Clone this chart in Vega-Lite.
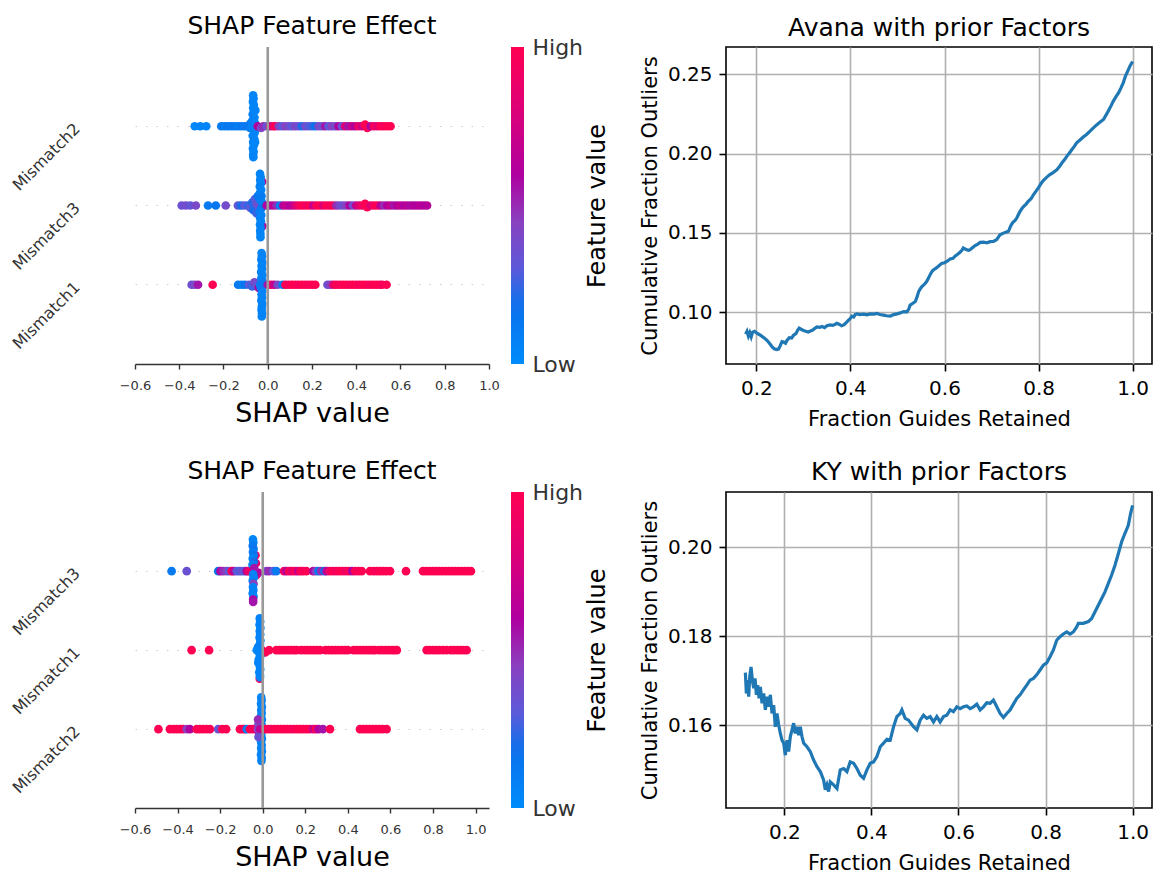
{
  "$schema": "https://vega.github.io/schema/vega-lite/v6.json",
  "background": "white",
  "padding": {"left": 9, "top": 14, "right": 5, "bottom": 4},
  "config": {
    "font": "DejaVu Sans",
    "view": {"stroke": null},
    "title": {"font": "DejaVu Sans", "fontWeight": "normal", "color": "black", "frame": "group", "baseline": "alphabetic"}
  },
  "columns": 2,
  "bounds": "flush",
  "spacing": {"row": 128, "column": 237},
  "resolve": {"scale": {"color": "independent"}, "legend": {"color": "independent"}},
  "datasets": {
    "shapA": [
      {"f":"Mismatch2","s":-0.330,"j":0,"v":0.03},{"f":"Mismatch2","s":-0.305,"j":0,"v":0.05},{"f":"Mismatch2","s":-0.278,"j":0,"v":0.04},
      {"f":"Mismatch2","s":-0.210,"j":0,"v":0.12},{"f":"Mismatch2","s":-0.195,"j":0,"v":0.10},{"f":"Mismatch2","s":-0.180,"j":0,"v":0.14},{"f":"Mismatch2","s":-0.165,"j":0,"v":0.12},{"f":"Mismatch2","s":-0.150,"j":0,"v":0.15},{"f":"Mismatch2","s":-0.135,"j":0,"v":0.10},{"f":"Mismatch2","s":-0.120,"j":0,"v":0.13},{"f":"Mismatch2","s":-0.105,"j":0,"v":0.12},{"f":"Mismatch2","s":-0.092,"j":0,"v":0.15},{"f":"Mismatch2","s":-0.080,"j":0.02,"v":0.10},{"f":"Mismatch2","s":-0.080,"j":-0.03,"v":0.12},
      {"f":"Mismatch2","s":-0.066,"j":-0.39,"v":0.05},{"f":"Mismatch2","s":-0.064,"j":-0.35,"v":0.04},{"f":"Mismatch2","s":-0.067,"j":-0.31,"v":0.05},{"f":"Mismatch2","s":-0.063,"j":-0.27,"v":0.06},{"f":"Mismatch2","s":-0.066,"j":-0.23,"v":0.04},{"f":"Mismatch2","s":-0.062,"j":-0.19,"v":0.05},{"f":"Mismatch2","s":-0.068,"j":-0.15,"v":0.07},{"f":"Mismatch2","s":-0.060,"j":-0.11,"v":0.05},{"f":"Mismatch2","s":-0.070,"j":-0.07,"v":0.08},{"f":"Mismatch2","s":-0.058,"j":-0.04,"v":0.06},{"f":"Mismatch2","s":-0.064,"j":0.04,"v":0.05},{"f":"Mismatch2","s":-0.059,"j":0.08,"v":0.06},{"f":"Mismatch2","s":-0.068,"j":0.12,"v":0.04},{"f":"Mismatch2","s":-0.061,"j":0.16,"v":0.05},{"f":"Mismatch2","s":-0.066,"j":0.20,"v":0.06},{"f":"Mismatch2","s":-0.063,"j":0.24,"v":0.05},{"f":"Mismatch2","s":-0.067,"j":0.28,"v":0.04},{"f":"Mismatch2","s":-0.064,"j":0.32,"v":0.05},{"f":"Mismatch2","s":-0.066,"j":0.36,"v":0.04},{"f":"Mismatch2","s":-0.065,"j":0.39,"v":0.05},{"f":"Mismatch2","s":-0.055,"j":0,"v":0.06},{"f":"Mismatch2","s":-0.072,"j":0,"v":0.07},{"f":"Mismatch2","s":-0.056,"j":-0.2,"v":0.06},{"f":"Mismatch2","s":-0.057,"j":0.2,"v":0.05},
      {"f":"Mismatch2","s":-0.045,"j":0,"v":0.62},{"f":"Mismatch2","s":-0.030,"j":0.02,"v":0.40},{"f":"Mismatch2","s":-0.020,"j":0,"v":0.50},{"f":"Mismatch2","s":-0.005,"j":0,"v":0.35},{"f":"Mismatch2","s":0.010,"j":0,"v":0.70},{"f":"Mismatch2","s":0.025,"j":0,"v":0.85},{"f":"Mismatch2","s":0.035,"j":0,"v":1.0},{"f":"Mismatch2","s":0.050,"j":0,"v":0.42},{"f":"Mismatch2","s":0.065,"j":0,"v":0.30},{"f":"Mismatch2","s":0.080,"j":0,"v":0.45},{"f":"Mismatch2","s":0.095,"j":0,"v":0.38},{"f":"Mismatch2","s":0.110,"j":0,"v":0.30},{"f":"Mismatch2","s":0.125,"j":0,"v":0.42},{"f":"Mismatch2","s":0.140,"j":0,"v":0.35},{"f":"Mismatch2","s":0.155,"j":0,"v":0.20},{"f":"Mismatch2","s":0.170,"j":0,"v":0.38},{"f":"Mismatch2","s":0.185,"j":0,"v":0.30},{"f":"Mismatch2","s":0.200,"j":0,"v":0.25},{"f":"Mismatch2","s":0.215,"j":0,"v":0.18},{"f":"Mismatch2","s":0.230,"j":0,"v":0.40},{"f":"Mismatch2","s":0.245,"j":0,"v":0.35},{"f":"Mismatch2","s":0.260,"j":0,"v":0.55},{"f":"Mismatch2","s":0.275,"j":0,"v":0.30},{"f":"Mismatch2","s":0.290,"j":0,"v":0.45},{"f":"Mismatch2","s":0.305,"j":0,"v":0.38},{"f":"Mismatch2","s":0.320,"j":0,"v":0.60},{"f":"Mismatch2","s":0.335,"j":0,"v":0.35},{"f":"Mismatch2","s":0.350,"j":0,"v":0.80},{"f":"Mismatch2","s":0.365,"j":0,"v":0.55},{"f":"Mismatch2","s":0.380,"j":0,"v":0.70},{"f":"Mismatch2","s":0.395,"j":0,"v":0.62},{"f":"Mismatch2","s":0.410,"j":0,"v":0.90},{"f":"Mismatch2","s":0.425,"j":0,"v":0.75},{"f":"Mismatch2","s":0.440,"j":-0.02,"v":1.0},{"f":"Mismatch2","s":0.450,"j":0.02,"v":1.0},{"f":"Mismatch2","s":0.465,"j":0,"v":0.60},{"f":"Mismatch2","s":0.480,"j":0,"v":0.95},{"f":"Mismatch2","s":0.495,"j":0,"v":0.85},{"f":"Mismatch2","s":0.510,"j":0,"v":1.0},{"f":"Mismatch2","s":0.525,"j":0,"v":0.95},{"f":"Mismatch2","s":0.540,"j":0,"v":1.0},{"f":"Mismatch2","s":0.555,"j":0,"v":1.0},
      {"f":"Mismatch3","s":-0.389,"j":0,"v":0.35},{"f":"Mismatch3","s":-0.370,"j":0,"v":0.38},{"f":"Mismatch3","s":-0.350,"j":0,"v":0.33},{"f":"Mismatch3","s":-0.325,"j":0,"v":0.40},{"f":"Mismatch3","s":-0.270,"j":0,"v":0.12},{"f":"Mismatch3","s":-0.235,"j":0,"v":0.15},{"f":"Mismatch3","s":-0.190,"j":0,"v":0.38},{"f":"Mismatch3","s":-0.135,"j":0,"v":0.32},{"f":"Mismatch3","s":-0.120,"j":0,"v":0.20},{"f":"Mismatch3","s":-0.105,"j":0,"v":0.30},
      {"f":"Mismatch3","s":-0.090,"j":0,"v":0.25},{"f":"Mismatch3","s":-0.078,"j":0.03,"v":0.30},{"f":"Mismatch3","s":-0.070,"j":-0.04,"v":0.22},{"f":"Mismatch3","s":-0.065,"j":0.06,"v":0.20},{"f":"Mismatch3","s":-0.058,"j":-0.08,"v":0.28},{"f":"Mismatch3","s":-0.050,"j":0.10,"v":0.25},{"f":"Mismatch3","s":-0.045,"j":-0.12,"v":0.15},{"f":"Mismatch3","s":-0.040,"j":0.02,"v":0.30},{"f":"Mismatch3","s":-0.050,"j":-0.02,"v":0.35},
      {"f":"Mismatch3","s":-0.025,"j":-0.30,"v":0.70},{"f":"Mismatch3","s":-0.024,"j":0.26,"v":0.65},
      {"f":"Mismatch3","s":-0.035,"j":-0.40,"v":0.06},{"f":"Mismatch3","s":-0.032,"j":-0.36,"v":0.05},{"f":"Mismatch3","s":-0.034,"j":-0.32,"v":0.06},{"f":"Mismatch3","s":-0.031,"j":-0.28,"v":0.05},{"f":"Mismatch3","s":-0.036,"j":-0.24,"v":0.07},{"f":"Mismatch3","s":-0.030,"j":-0.20,"v":0.05},{"f":"Mismatch3","s":-0.035,"j":-0.16,"v":0.06},{"f":"Mismatch3","s":-0.028,"j":-0.12,"v":0.10},{"f":"Mismatch3","s":-0.037,"j":-0.08,"v":0.12},{"f":"Mismatch3","s":-0.026,"j":-0.04,"v":0.08},{"f":"Mismatch3","s":-0.030,"j":0.04,"v":0.15},{"f":"Mismatch3","s":-0.036,"j":0.08,"v":0.10},{"f":"Mismatch3","s":-0.029,"j":0.12,"v":0.06},{"f":"Mismatch3","s":-0.034,"j":0.16,"v":0.05},{"f":"Mismatch3","s":-0.031,"j":0.20,"v":0.06},{"f":"Mismatch3","s":-0.035,"j":0.24,"v":0.05},{"f":"Mismatch3","s":-0.032,"j":0.28,"v":0.07},{"f":"Mismatch3","s":-0.034,"j":0.32,"v":0.05},{"f":"Mismatch3","s":-0.033,"j":0.36,"v":0.06},{"f":"Mismatch3","s":-0.033,"j":0.40,"v":0.05},
      {"f":"Mismatch3","s":-0.005,"j":0,"v":0.60},{"f":"Mismatch3","s":0.010,"j":0,"v":0.55},{"f":"Mismatch3","s":0.025,"j":0,"v":0.65},{"f":"Mismatch3","s":0.040,"j":0,"v":0.50},{"f":"Mismatch3","s":0.055,"j":0,"v":0.10},{"f":"Mismatch3","s":0.070,"j":0,"v":0.62},{"f":"Mismatch3","s":0.085,"j":0,"v":0.70},{"f":"Mismatch3","s":0.100,"j":0,"v":0.60},{"f":"Mismatch3","s":0.115,"j":0,"v":0.68},{"f":"Mismatch3","s":0.130,"j":0,"v":0.85},{"f":"Mismatch3","s":0.145,"j":0,"v":0.95},{"f":"Mismatch3","s":0.160,"j":0,"v":1.0},{"f":"Mismatch3","s":0.175,"j":0,"v":0.90},{"f":"Mismatch3","s":0.190,"j":0,"v":1.0},{"f":"Mismatch3","s":0.205,"j":0,"v":0.70},{"f":"Mismatch3","s":0.220,"j":0,"v":0.95},{"f":"Mismatch3","s":0.235,"j":0,"v":1.0},{"f":"Mismatch3","s":0.250,"j":0,"v":0.80},{"f":"Mismatch3","s":0.265,"j":0,"v":1.0},{"f":"Mismatch3","s":0.280,"j":0,"v":0.95},{"f":"Mismatch3","s":0.295,"j":0,"v":1.0},{"f":"Mismatch3","s":0.310,"j":0,"v":0.50},{"f":"Mismatch3","s":0.325,"j":0,"v":0.40},{"f":"Mismatch3","s":0.340,"j":0,"v":0.35},{"f":"Mismatch3","s":0.355,"j":0,"v":0.45},{"f":"Mismatch3","s":0.370,"j":0,"v":0.60},{"f":"Mismatch3","s":0.385,"j":0,"v":0.38},{"f":"Mismatch3","s":0.400,"j":0,"v":0.70},{"f":"Mismatch3","s":0.415,"j":0,"v":0.85},{"f":"Mismatch3","s":0.430,"j":0,"v":0.90},{"f":"Mismatch3","s":0.440,"j":-0.02,"v":1.0},{"f":"Mismatch3","s":0.450,"j":0.02,"v":1.0},{"f":"Mismatch3","s":0.465,"j":0,"v":0.80},{"f":"Mismatch3","s":0.480,"j":0,"v":0.95},{"f":"Mismatch3","s":0.495,"j":0,"v":1.0},{"f":"Mismatch3","s":0.510,"j":0,"v":0.65},{"f":"Mismatch3","s":0.525,"j":0,"v":0.50},{"f":"Mismatch3","s":0.540,"j":0,"v":0.60},{"f":"Mismatch3","s":0.555,"j":0,"v":0.70},{"f":"Mismatch3","s":0.570,"j":0,"v":0.55},{"f":"Mismatch3","s":0.585,"j":0,"v":0.62},{"f":"Mismatch3","s":0.600,"j":0,"v":0.68},{"f":"Mismatch3","s":0.615,"j":0,"v":0.60},{"f":"Mismatch3","s":0.630,"j":0,"v":0.65},{"f":"Mismatch3","s":0.645,"j":0,"v":0.58},{"f":"Mismatch3","s":0.660,"j":0,"v":0.62},{"f":"Mismatch3","s":0.675,"j":0,"v":0.60},{"f":"Mismatch3","s":0.690,"j":0,"v":0.65},{"f":"Mismatch3","s":0.705,"j":0,"v":0.60},{"f":"Mismatch3","s":0.720,"j":0,"v":0.62},
      {"f":"Mismatch1","s":-0.344,"j":0,"v":0.35},{"f":"Mismatch1","s":-0.330,"j":0,"v":0.40},{"f":"Mismatch1","s":-0.315,"j":0,"v":0.55},{"f":"Mismatch1","s":-0.249,"j":0,"v":1.0},{"f":"Mismatch1","s":-0.134,"j":0,"v":0.12},{"f":"Mismatch1","s":-0.118,"j":0,"v":0.10},{"f":"Mismatch1","s":-0.103,"j":0,"v":0.14},{"f":"Mismatch1","s":-0.085,"j":0,"v":0.30},{"f":"Mismatch1","s":-0.070,"j":0.02,"v":0.25},{"f":"Mismatch1","s":-0.060,"j":-0.03,"v":0.40},{"f":"Mismatch1","s":-0.050,"j":0,"v":0.35},{"f":"Mismatch1","s":-0.040,"j":0.04,"v":0.60},
      {"f":"Mismatch1","s":-0.028,"j":-0.40,"v":0.05},{"f":"Mismatch1","s":-0.026,"j":-0.36,"v":0.06},{"f":"Mismatch1","s":-0.029,"j":-0.32,"v":0.05},{"f":"Mismatch1","s":-0.025,"j":-0.28,"v":0.06},{"f":"Mismatch1","s":-0.028,"j":-0.24,"v":0.05},{"f":"Mismatch1","s":-0.026,"j":-0.20,"v":0.07},{"f":"Mismatch1","s":-0.030,"j":-0.16,"v":0.05},{"f":"Mismatch1","s":-0.024,"j":-0.12,"v":0.06},{"f":"Mismatch1","s":-0.029,"j":-0.08,"v":0.05},{"f":"Mismatch1","s":-0.023,"j":-0.04,"v":0.08},{"f":"Mismatch1","s":-0.031,"j":0.04,"v":0.06},{"f":"Mismatch1","s":-0.025,"j":0.08,"v":0.05},{"f":"Mismatch1","s":-0.028,"j":0.12,"v":0.06},{"f":"Mismatch1","s":-0.026,"j":0.16,"v":0.05},{"f":"Mismatch1","s":-0.029,"j":0.20,"v":0.06},{"f":"Mismatch1","s":-0.025,"j":0.24,"v":0.05},{"f":"Mismatch1","s":-0.027,"j":0.28,"v":0.06},{"f":"Mismatch1","s":-0.028,"j":0.32,"v":0.05},{"f":"Mismatch1","s":-0.026,"j":0.36,"v":0.05},{"f":"Mismatch1","s":-0.027,"j":0.40,"v":0.06},{"f":"Mismatch1","s":-0.018,"j":0,"v":0.10},{"f":"Mismatch1","s":-0.035,"j":0,"v":0.12},
      {"f":"Mismatch1","s":0.000,"j":0,"v":0.55},{"f":"Mismatch1","s":0.015,"j":0,"v":0.90},{"f":"Mismatch1","s":0.030,"j":0,"v":0.70},{"f":"Mismatch1","s":0.045,"j":0,"v":0.40},{"f":"Mismatch1","s":0.067,"j":0,"v":0.10},{"f":"Mismatch1","s":0.080,"j":0,"v":1.0},{"f":"Mismatch1","s":0.095,"j":0,"v":0.95},{"f":"Mismatch1","s":0.110,"j":0,"v":1.0},{"f":"Mismatch1","s":0.125,"j":0,"v":1.0},{"f":"Mismatch1","s":0.140,"j":0,"v":0.95},{"f":"Mismatch1","s":0.155,"j":0,"v":1.0},{"f":"Mismatch1","s":0.170,"j":0,"v":1.0},{"f":"Mismatch1","s":0.185,"j":0,"v":0.95},{"f":"Mismatch1","s":0.200,"j":0,"v":1.0},{"f":"Mismatch1","s":0.215,"j":0,"v":1.0},{"f":"Mismatch1","s":0.270,"j":0,"v":0.35},{"f":"Mismatch1","s":0.283,"j":0,"v":0.45},{"f":"Mismatch1","s":0.297,"j":0,"v":0.85},{"f":"Mismatch1","s":0.310,"j":0,"v":1.0},{"f":"Mismatch1","s":0.325,"j":0,"v":0.95},{"f":"Mismatch1","s":0.340,"j":0,"v":1.0},{"f":"Mismatch1","s":0.355,"j":0,"v":1.0},{"f":"Mismatch1","s":0.370,"j":0,"v":0.95},{"f":"Mismatch1","s":0.385,"j":0,"v":1.0},{"f":"Mismatch1","s":0.400,"j":0,"v":1.0},{"f":"Mismatch1","s":0.415,"j":0,"v":0.95},{"f":"Mismatch1","s":0.430,"j":0,"v":1.0},{"f":"Mismatch1","s":0.445,"j":0,"v":1.0},{"f":"Mismatch1","s":0.460,"j":0,"v":0.95},{"f":"Mismatch1","s":0.475,"j":0,"v":1.0},{"f":"Mismatch1","s":0.490,"j":0,"v":1.0},{"f":"Mismatch1","s":0.505,"j":0,"v":1.0},{"f":"Mismatch1","s":0.517,"j":0,"v":0.95},{"f":"Mismatch1","s":0.537,"j":0,"v":1.0}
    ],
    "shapB": [
      {"f":"Mismatch3","s":-0.428,"j":0,"v":0.12},{"f":"Mismatch3","s":-0.357,"j":0,"v":0.35},{"f":"Mismatch3","s":-0.209,"j":0,"v":0.15},{"f":"Mismatch3","s":-0.198,"j":0,"v":0.60},{"f":"Mismatch3","s":-0.185,"j":0,"v":0.50},{"f":"Mismatch3","s":-0.170,"j":0,"v":0.45},{"f":"Mismatch3","s":-0.158,"j":0,"v":0.30},{"f":"Mismatch3","s":-0.146,"j":0,"v":1.0},{"f":"Mismatch3","s":-0.135,"j":0,"v":0.65},{"f":"Mismatch3","s":-0.122,"j":0,"v":0.32},{"f":"Mismatch3","s":-0.110,"j":0,"v":0.28},{"f":"Mismatch3","s":-0.098,"j":0,"v":0.35},{"f":"Mismatch3","s":-0.086,"j":0,"v":0.30},{"f":"Mismatch3","s":-0.075,"j":0,"v":0.60},{"f":"Mismatch3","s":-0.066,"j":0,"v":0.90},
      {"f":"Mismatch3","s":-0.032,"j":-0.10,"v":0.90},{"f":"Mismatch3","s":-0.030,"j":0.05,"v":0.85},{"f":"Mismatch3","s":-0.034,"j":-0.20,"v":0.95},{"f":"Mismatch3","s":-0.020,"j":0.02,"v":0.60},
      {"f":"Mismatch3","s":-0.046,"j":-0.40,"v":0.05},{"f":"Mismatch3","s":-0.044,"j":-0.36,"v":0.06},{"f":"Mismatch3","s":-0.047,"j":-0.32,"v":0.12},{"f":"Mismatch3","s":-0.043,"j":-0.28,"v":0.15},{"f":"Mismatch3","s":-0.046,"j":-0.24,"v":0.10},{"f":"Mismatch3","s":-0.042,"j":-0.20,"v":0.14},{"f":"Mismatch3","s":-0.047,"j":-0.16,"v":0.05},{"f":"Mismatch3","s":-0.041,"j":-0.12,"v":0.20},{"f":"Mismatch3","s":-0.048,"j":-0.08,"v":0.06},{"f":"Mismatch3","s":-0.040,"j":-0.04,"v":0.55},{"f":"Mismatch3","s":-0.045,"j":0.04,"v":0.05},{"f":"Mismatch3","s":-0.042,"j":0.08,"v":0.06},{"f":"Mismatch3","s":-0.047,"j":0.12,"v":0.08},{"f":"Mismatch3","s":-0.043,"j":0.16,"v":0.45},{"f":"Mismatch3","s":-0.046,"j":0.20,"v":0.05},{"f":"Mismatch3","s":-0.044,"j":0.24,"v":0.06},{"f":"Mismatch3","s":-0.047,"j":0.28,"v":0.07},{"f":"Mismatch3","s":-0.043,"j":0.32,"v":0.05},{"f":"Mismatch3","s":-0.045,"j":0.36,"v":0.60},{"f":"Mismatch3","s":-0.045,"j":0.39,"v":0.55},
      {"f":"Mismatch3","s":0.017,"j":0,"v":0.40},{"f":"Mismatch3","s":0.030,"j":0,"v":0.50},{"f":"Mismatch3","s":0.050,"j":0,"v":0.30},{"f":"Mismatch3","s":0.064,"j":0,"v":0.12},{"f":"Mismatch3","s":0.100,"j":0,"v":0.90},{"f":"Mismatch3","s":0.112,"j":0,"v":0.65},{"f":"Mismatch3","s":0.125,"j":0,"v":1.0},{"f":"Mismatch3","s":0.138,"j":0,"v":0.85},{"f":"Mismatch3","s":0.152,"j":0,"v":1.0},{"f":"Mismatch3","s":0.165,"j":0,"v":0.70},{"f":"Mismatch3","s":0.178,"j":0,"v":1.0},{"f":"Mismatch3","s":0.190,"j":0,"v":0.95},{"f":"Mismatch3","s":0.205,"j":0,"v":1.0},{"f":"Mismatch3","s":0.237,"j":0,"v":0.60},{"f":"Mismatch3","s":0.250,"j":0,"v":0.45},{"f":"Mismatch3","s":0.262,"j":0,"v":0.12},{"f":"Mismatch3","s":0.275,"j":0,"v":0.50},{"f":"Mismatch3","s":0.290,"j":0,"v":0.20},{"f":"Mismatch3","s":0.300,"j":0,"v":0.65},{"f":"Mismatch3","s":0.315,"j":0,"v":0.90},{"f":"Mismatch3","s":0.330,"j":0,"v":1.0},{"f":"Mismatch3","s":0.345,"j":0,"v":0.95},{"f":"Mismatch3","s":0.360,"j":0,"v":1.0},{"f":"Mismatch3","s":0.375,"j":0,"v":1.0},{"f":"Mismatch3","s":0.390,"j":0,"v":0.90},{"f":"Mismatch3","s":0.405,"j":0,"v":1.0},{"f":"Mismatch3","s":0.420,"j":0,"v":0.60},{"f":"Mismatch3","s":0.435,"j":0,"v":1.0},{"f":"Mismatch3","s":0.450,"j":0,"v":0.95},{"f":"Mismatch3","s":0.465,"j":0,"v":1.0},{"f":"Mismatch3","s":0.504,"j":0,"v":1.0},{"f":"Mismatch3","s":0.520,"j":0,"v":1.0},{"f":"Mismatch3","s":0.535,"j":0,"v":0.95},{"f":"Mismatch3","s":0.550,"j":0,"v":1.0},{"f":"Mismatch3","s":0.565,"j":0,"v":1.0},{"f":"Mismatch3","s":0.580,"j":0,"v":1.0},{"f":"Mismatch3","s":0.598,"j":0,"v":1.0},{"f":"Mismatch3","s":0.673,"j":0,"v":1.0},{"f":"Mismatch3","s":0.753,"j":0,"v":1.0},{"f":"Mismatch3","s":0.768,"j":0,"v":1.0},{"f":"Mismatch3","s":0.783,"j":0,"v":1.0},{"f":"Mismatch3","s":0.798,"j":0,"v":1.0},{"f":"Mismatch3","s":0.813,"j":0,"v":1.0},{"f":"Mismatch3","s":0.828,"j":0,"v":1.0},{"f":"Mismatch3","s":0.843,"j":0,"v":1.0},{"f":"Mismatch3","s":0.858,"j":0,"v":1.0},{"f":"Mismatch3","s":0.873,"j":0,"v":1.0},{"f":"Mismatch3","s":0.888,"j":0,"v":1.0},{"f":"Mismatch3","s":0.903,"j":0,"v":1.0},{"f":"Mismatch3","s":0.918,"j":0,"v":1.0},{"f":"Mismatch3","s":0.933,"j":0,"v":1.0},{"f":"Mismatch3","s":0.948,"j":0,"v":1.0},{"f":"Mismatch3","s":0.963,"j":0,"v":1.0},{"f":"Mismatch3","s":0.978,"j":0,"v":1.0},
      {"f":"Mismatch1","s":-0.334,"j":0,"v":1.0},{"f":"Mismatch1","s":-0.252,"j":0,"v":1.0},
      {"f":"Mismatch1","s":-0.014,"j":0.36,"v":0.95},{"f":"Mismatch1","s":-0.004,"j":0,"v":1.0},{"f":"Mismatch1","s":0.012,"j":0.03,"v":1.0},
      {"f":"Mismatch1","s":-0.014,"j":-0.40,"v":0.05},{"f":"Mismatch1","s":-0.012,"j":-0.36,"v":0.06},{"f":"Mismatch1","s":-0.015,"j":-0.32,"v":0.05},{"f":"Mismatch1","s":-0.011,"j":-0.28,"v":0.06},{"f":"Mismatch1","s":-0.014,"j":-0.24,"v":0.05},{"f":"Mismatch1","s":-0.012,"j":-0.20,"v":0.06},{"f":"Mismatch1","s":-0.015,"j":-0.16,"v":0.05},{"f":"Mismatch1","s":-0.011,"j":-0.12,"v":0.06},{"f":"Mismatch1","s":-0.013,"j":-0.08,"v":0.05},{"f":"Mismatch1","s":-0.022,"j":-0.04,"v":0.07},{"f":"Mismatch1","s":-0.028,"j":0,"v":0.05},{"f":"Mismatch1","s":-0.016,"j":0.04,"v":0.05},{"f":"Mismatch1","s":-0.012,"j":0.08,"v":0.06},{"f":"Mismatch1","s":-0.019,"j":0.12,"v":0.05},{"f":"Mismatch1","s":-0.021,"j":0.16,"v":0.06},{"f":"Mismatch1","s":-0.014,"j":0.20,"v":0.05},{"f":"Mismatch1","s":-0.012,"j":0.24,"v":0.06},{"f":"Mismatch1","s":-0.016,"j":0.28,"v":0.05},{"f":"Mismatch1","s":-0.013,"j":0.32,"v":0.06},{"f":"Mismatch1","s":-0.013,"j":0.34,"v":0.05},
      {"f":"Mismatch1","s":0.030,"j":0,"v":1.0},{"f":"Mismatch1","s":0.064,"j":0,"v":1.0},{"f":"Mismatch1","s":0.078,"j":0,"v":1.0},{"f":"Mismatch1","s":0.092,"j":0,"v":1.0},{"f":"Mismatch1","s":0.106,"j":0,"v":1.0},{"f":"Mismatch1","s":0.120,"j":0,"v":1.0},{"f":"Mismatch1","s":0.134,"j":0,"v":1.0},{"f":"Mismatch1","s":0.148,"j":0,"v":1.0},{"f":"Mismatch1","s":0.159,"j":0,"v":1.0},{"f":"Mismatch1","s":0.180,"j":0,"v":1.0},{"f":"Mismatch1","s":0.195,"j":0,"v":1.0},{"f":"Mismatch1","s":0.210,"j":0,"v":1.0},{"f":"Mismatch1","s":0.225,"j":0,"v":1.0},{"f":"Mismatch1","s":0.240,"j":0,"v":1.0},{"f":"Mismatch1","s":0.255,"j":0,"v":1.0},{"f":"Mismatch1","s":0.269,"j":0,"v":1.0},{"f":"Mismatch1","s":0.295,"j":0,"v":1.0},{"f":"Mismatch1","s":0.310,"j":0,"v":1.0},{"f":"Mismatch1","s":0.325,"j":0,"v":1.0},{"f":"Mismatch1","s":0.340,"j":0,"v":1.0},{"f":"Mismatch1","s":0.355,"j":0,"v":1.0},{"f":"Mismatch1","s":0.370,"j":0,"v":1.0},{"f":"Mismatch1","s":0.385,"j":0,"v":1.0},{"f":"Mismatch1","s":0.400,"j":0,"v":1.0},{"f":"Mismatch1","s":0.427,"j":0,"v":1.0},{"f":"Mismatch1","s":0.442,"j":0,"v":1.0},{"f":"Mismatch1","s":0.457,"j":0,"v":1.0},{"f":"Mismatch1","s":0.472,"j":0,"v":1.0},{"f":"Mismatch1","s":0.487,"j":0,"v":1.0},{"f":"Mismatch1","s":0.502,"j":0,"v":1.0},{"f":"Mismatch1","s":0.516,"j":0,"v":1.0},{"f":"Mismatch1","s":0.527,"j":0,"v":1.0},{"f":"Mismatch1","s":0.546,"j":0,"v":1.0},{"f":"Mismatch1","s":0.561,"j":0,"v":1.0},{"f":"Mismatch1","s":0.576,"j":0,"v":1.0},{"f":"Mismatch1","s":0.591,"j":0,"v":1.0},{"f":"Mismatch1","s":0.606,"j":0,"v":1.0},{"f":"Mismatch1","s":0.618,"j":0,"v":1.0},{"f":"Mismatch1","s":0.630,"j":0,"v":1.0},{"f":"Mismatch1","s":0.770,"j":0,"v":1.0},{"f":"Mismatch1","s":0.785,"j":0,"v":1.0},{"f":"Mismatch1","s":0.800,"j":0,"v":1.0},{"f":"Mismatch1","s":0.815,"j":0,"v":1.0},{"f":"Mismatch1","s":0.830,"j":0,"v":1.0},{"f":"Mismatch1","s":0.847,"j":0,"v":1.0},{"f":"Mismatch1","s":0.864,"j":0,"v":1.0},{"f":"Mismatch1","s":0.884,"j":0,"v":1.0},{"f":"Mismatch1","s":0.899,"j":0,"v":1.0},{"f":"Mismatch1","s":0.914,"j":0,"v":1.0},{"f":"Mismatch1","s":0.929,"j":0,"v":1.0},{"f":"Mismatch1","s":0.944,"j":0,"v":1.0},{"f":"Mismatch1","s":0.958,"j":0,"v":1.0},
      {"f":"Mismatch2","s":-0.490,"j":0,"v":1.0},{"f":"Mismatch2","s":-0.436,"j":0,"v":1.0},{"f":"Mismatch2","s":-0.420,"j":0,"v":1.0},{"f":"Mismatch2","s":-0.405,"j":0,"v":1.0},{"f":"Mismatch2","s":-0.390,"j":0,"v":1.0},{"f":"Mismatch2","s":-0.374,"j":0,"v":1.0},{"f":"Mismatch2","s":-0.357,"j":0,"v":0.45},{"f":"Mismatch2","s":-0.342,"j":0,"v":0.60},{"f":"Mismatch2","s":-0.310,"j":0,"v":1.0},{"f":"Mismatch2","s":-0.295,"j":0,"v":1.0},{"f":"Mismatch2","s":-0.280,"j":0,"v":1.0},{"f":"Mismatch2","s":-0.263,"j":0,"v":1.0},{"f":"Mismatch2","s":-0.248,"j":0,"v":1.0},{"f":"Mismatch2","s":-0.209,"j":0,"v":0.35},{"f":"Mismatch2","s":-0.190,"j":0,"v":1.0},{"f":"Mismatch2","s":-0.172,"j":0,"v":1.0},{"f":"Mismatch2","s":-0.107,"j":0,"v":1.0},{"f":"Mismatch2","s":-0.095,"j":0,"v":1.0},{"f":"Mismatch2","s":-0.083,"j":0,"v":1.0},{"f":"Mismatch2","s":-0.075,"j":0,"v":0.10},{"f":"Mismatch2","s":-0.060,"j":0,"v":1.0},{"f":"Mismatch2","s":-0.045,"j":0,"v":0.95},
      {"f":"Mismatch2","s":-0.007,"j":-0.40,"v":0.05},{"f":"Mismatch2","s":-0.005,"j":-0.36,"v":0.06},{"f":"Mismatch2","s":-0.008,"j":-0.32,"v":0.05},{"f":"Mismatch2","s":-0.004,"j":-0.28,"v":0.06},{"f":"Mismatch2","s":-0.007,"j":-0.24,"v":0.05},{"f":"Mismatch2","s":-0.005,"j":-0.20,"v":0.06},{"f":"Mismatch2","s":-0.008,"j":-0.16,"v":0.05},{"f":"Mismatch2","s":-0.004,"j":-0.12,"v":0.06},{"f":"Mismatch2","s":-0.006,"j":-0.06,"v":0.05},{"f":"Mismatch2","s":-0.006,"j":0.04,"v":0.05},{"f":"Mismatch2","s":-0.007,"j":0.08,"v":0.06},{"f":"Mismatch2","s":-0.004,"j":0.12,"v":0.05},{"f":"Mismatch2","s":-0.008,"j":0.16,"v":0.06},{"f":"Mismatch2","s":-0.005,"j":0.20,"v":0.05},{"f":"Mismatch2","s":-0.007,"j":0.24,"v":0.06},{"f":"Mismatch2","s":-0.004,"j":0.28,"v":0.05},{"f":"Mismatch2","s":-0.008,"j":0.32,"v":0.06},{"f":"Mismatch2","s":-0.005,"j":0.36,"v":0.05},{"f":"Mismatch2","s":-0.006,"j":0.40,"v":0.06},
      {"f":"Mismatch2","s":-0.020,"j":-0.06,"v":0.40},{"f":"Mismatch2","s":-0.018,"j":0.04,"v":0.60},{"f":"Mismatch2","s":-0.022,"j":0.0,"v":0.45},{"f":"Mismatch2","s":-0.012,"j":0.0,"v":0.65},{"f":"Mismatch2","s":-0.020,"j":0.10,"v":0.35},{"f":"Mismatch2","s":-0.022,"j":-0.12,"v":0.50},
      {"f":"Mismatch2","s":0.010,"j":0,"v":1.0},{"f":"Mismatch2","s":0.025,"j":0,"v":1.0},{"f":"Mismatch2","s":0.040,"j":0,"v":0.95},{"f":"Mismatch2","s":0.055,"j":0,"v":1.0},{"f":"Mismatch2","s":0.070,"j":0,"v":1.0},{"f":"Mismatch2","s":0.085,"j":0,"v":1.0},{"f":"Mismatch2","s":0.100,"j":0,"v":1.0},{"f":"Mismatch2","s":0.115,"j":0,"v":1.0},{"f":"Mismatch2","s":0.130,"j":0,"v":1.0},{"f":"Mismatch2","s":0.145,"j":0,"v":0.95},{"f":"Mismatch2","s":0.160,"j":0,"v":1.0},{"f":"Mismatch2","s":0.175,"j":0,"v":1.0},{"f":"Mismatch2","s":0.190,"j":0,"v":1.0},{"f":"Mismatch2","s":0.205,"j":0,"v":1.0},{"f":"Mismatch2","s":0.220,"j":0,"v":1.0},{"f":"Mismatch2","s":0.237,"j":0,"v":0.70},{"f":"Mismatch2","s":0.250,"j":0,"v":1.0},{"f":"Mismatch2","s":0.262,"j":0,"v":0.60},{"f":"Mismatch2","s":0.283,"j":0,"v":0.55},{"f":"Mismatch2","s":0.316,"j":0,"v":1.0},{"f":"Mismatch2","s":0.457,"j":0,"v":1.0},{"f":"Mismatch2","s":0.472,"j":0,"v":1.0},{"f":"Mismatch2","s":0.487,"j":0,"v":1.0},{"f":"Mismatch2","s":0.502,"j":0,"v":1.0},{"f":"Mismatch2","s":0.517,"j":0,"v":1.0},{"f":"Mismatch2","s":0.532,"j":0,"v":1.0},{"f":"Mismatch2","s":0.547,"j":0,"v":1.0},{"f":"Mismatch2","s":0.562,"j":0,"v":1.0},{"f":"Mismatch2","s":0.582,"j":0,"v":1.0}
    ],
    "avana": [
      {"x":0.177,"y":0.0862},{"x":0.180,"y":0.0880},{"x":0.183,"y":0.0850},{"x":0.186,"y":0.0872},{"x":0.189,"y":0.0845},{"x":0.192,"y":0.0875},{"x":0.196,"y":0.0880},{"x":0.201,"y":0.0868},{"x":0.206,"y":0.0860},{"x":0.212,"y":0.0848},{"x":0.218,"y":0.0835},{"x":0.223,"y":0.0822},{"x":0.229,"y":0.0800},{"x":0.234,"y":0.0780},{"x":0.238,"y":0.0770},{"x":0.243,"y":0.0765},{"x":0.247,"y":0.0768},{"x":0.250,"y":0.0785},{"x":0.2545,"y":0.0815},{"x":0.258,"y":0.0812},{"x":0.262,"y":0.0805},{"x":0.265,"y":0.0822},{"x":0.270,"y":0.0840},{"x":0.275,"y":0.0838},{"x":0.279,"y":0.0855},{"x":0.284,"y":0.0865},{"x":0.288,"y":0.0888},{"x":0.291,"y":0.0900},{"x":0.295,"y":0.0893},{"x":0.300,"y":0.0885},{"x":0.305,"y":0.0880},{"x":0.310,"y":0.0875},{"x":0.315,"y":0.0882},{"x":0.320,"y":0.0888},{"x":0.325,"y":0.0900},{"x":0.329,"y":0.0908},{"x":0.335,"y":0.0905},{"x":0.340,"y":0.0910},{"x":0.345,"y":0.0903},{"x":0.350,"y":0.0915},{"x":0.357,"y":0.0920},{"x":0.362,"y":0.0918},{"x":0.367,"y":0.0922},{"x":0.371,"y":0.0930},{"x":0.376,"y":0.0925},{"x":0.381,"y":0.0915},{"x":0.386,"y":0.0920},{"x":0.391,"y":0.0935},{"x":0.396,"y":0.0950},{"x":0.400,"y":0.0962},{"x":0.403,"y":0.0975},{"x":0.407,"y":0.0970},{"x":0.410,"y":0.0985},{"x":0.414,"y":0.0990},{"x":0.420,"y":0.0985},{"x":0.428,"y":0.0988},{"x":0.435,"y":0.0984},{"x":0.442,"y":0.0990},{"x":0.450,"y":0.0988},{"x":0.456,"y":0.0992},{"x":0.463,"y":0.0986},{"x":0.470,"y":0.0982},{"x":0.477,"y":0.0978},{"x":0.485,"y":0.0976},{"x":0.492,"y":0.0985},{"x":0.499,"y":0.0990},{"x":0.506,"y":0.0996},{"x":0.513,"y":0.1004},{"x":0.520,"y":0.1002},{"x":0.524,"y":0.1020},{"x":0.527,"y":0.1045},{"x":0.532,"y":0.1055},{"x":0.538,"y":0.1068},{"x":0.542,"y":0.1100},{"x":0.545,"y":0.1130},{"x":0.549,"y":0.1150},{"x":0.552,"y":0.1162},{"x":0.557,"y":0.1175},{"x":0.562,"y":0.1193},{"x":0.566,"y":0.1215},{"x":0.570,"y":0.1240},{"x":0.574,"y":0.1260},{"x":0.577,"y":0.1268},{"x":0.582,"y":0.1278},{"x":0.587,"y":0.1290},{"x":0.594,"y":0.1308},{"x":0.600,"y":0.1312},{"x":0.605,"y":0.1320},{"x":0.612,"y":0.1335},{"x":0.618,"y":0.1340},{"x":0.623,"y":0.1355},{"x":0.628,"y":0.1365},{"x":0.633,"y":0.1378},{"x":0.637,"y":0.1390},{"x":0.640,"y":0.1405},{"x":0.644,"y":0.1398},{"x":0.648,"y":0.1393},{"x":0.652,"y":0.1390},{"x":0.655,"y":0.1395},{"x":0.660,"y":0.1408},{"x":0.665,"y":0.1420},{"x":0.670,"y":0.1428},{"x":0.676,"y":0.1440},{"x":0.683,"y":0.1442},{"x":0.690,"y":0.1438},{"x":0.697,"y":0.1445},{"x":0.704,"y":0.1446},{"x":0.711,"y":0.1458},{"x":0.718,"y":0.1488},{"x":0.723,"y":0.1495},{"x":0.729,"y":0.1503},{"x":0.736,"y":0.1510},{"x":0.741,"y":0.1545},{"x":0.745,"y":0.1565},{"x":0.750,"y":0.1578},{"x":0.754,"y":0.1595},{"x":0.758,"y":0.1620},{"x":0.761,"y":0.1637},{"x":0.765,"y":0.1655},{"x":0.768,"y":0.1665},{"x":0.773,"y":0.1680},{"x":0.778,"y":0.1698},{"x":0.784,"y":0.1715},{"x":0.789,"y":0.1740},{"x":0.795,"y":0.1765},{"x":0.800,"y":0.1785},{"x":0.805,"y":0.1810},{"x":0.810,"y":0.1830},{"x":0.817,"y":0.1850},{"x":0.824,"y":0.1867},{"x":0.831,"y":0.1880},{"x":0.839,"y":0.1898},{"x":0.845,"y":0.1920},{"x":0.850,"y":0.1942},{"x":0.855,"y":0.1960},{"x":0.860,"y":0.1982},{"x":0.866,"y":0.2005},{"x":0.871,"y":0.2025},{"x":0.876,"y":0.2045},{"x":0.881,"y":0.2067},{"x":0.888,"y":0.2085},{"x":0.895,"y":0.2104},{"x":0.902,"y":0.2120},{"x":0.909,"y":0.2140},{"x":0.916,"y":0.2160},{"x":0.924,"y":0.2182},{"x":0.931,"y":0.2198},{"x":0.938,"y":0.2214},{"x":0.944,"y":0.2245},{"x":0.948,"y":0.2266},{"x":0.954,"y":0.2300},{"x":0.959,"y":0.2330},{"x":0.965,"y":0.2360},{"x":0.970,"y":0.2382},{"x":0.975,"y":0.2412},{"x":0.980,"y":0.2445},{"x":0.985,"y":0.2490},{"x":0.991,"y":0.2529},{"x":0.995,"y":0.2555},{"x":1.000,"y":0.2580}
    ],
    "ky": [
      {"x":0.1105,"y":0.1718},{"x":0.1128,"y":0.1671},{"x":0.1159,"y":0.1701},{"x":0.1182,"y":0.1664},{"x":0.1205,"y":0.1709},{"x":0.1235,"y":0.1731},{"x":0.1266,"y":0.1701},{"x":0.1296,"y":0.1683},{"x":0.1327,"y":0.1705},{"x":0.1358,"y":0.1668},{"x":0.1388,"y":0.1690},{"x":0.1419,"y":0.1660},{"x":0.1449,"y":0.1686},{"x":0.1488,"y":0.1649},{"x":0.1526,"y":0.1671},{"x":0.1564,"y":0.1634},{"x":0.1602,"y":0.1664},{"x":0.1641,"y":0.1641},{"x":0.1679,"y":0.1668},{"x":0.1717,"y":0.1626},{"x":0.1755,"y":0.1645},{"x":0.1793,"y":0.1596},{"x":0.1832,"y":0.1626},{"x":0.1870,"y":0.1600},{"x":0.1908,"y":0.1581},{"x":0.1946,"y":0.1566},{"x":0.1985,"y":0.1559},{"x":0.2023,"y":0.1532},{"x":0.2061,"y":0.1566},{"x":0.2099,"y":0.1540},{"x":0.2138,"y":0.1574},{"x":0.2176,"y":0.1589},{"x":0.2214,"y":0.1604},{"x":0.2252,"y":0.1581},{"x":0.2291,"y":0.1596},{"x":0.2329,"y":0.1577},{"x":0.2367,"y":0.1596},{"x":0.2405,"y":0.1574},{"x":0.2444,"y":0.1559},{"x":0.2520,"y":0.1551},{"x":0.2597,"y":0.1540},{"x":0.2673,"y":0.1521},{"x":0.2750,"y":0.1506},{"x":0.2826,"y":0.1495},{"x":0.2902,"y":0.1476},{"x":0.2941,"y":0.1454},{"x":0.2979,"y":0.1465},{"x":0.3017,"y":0.1450},{"x":0.3055,"y":0.1472},{"x":0.3132,"y":0.1465},{"x":0.3208,"y":0.1457},{"x":0.3285,"y":0.1499},{"x":0.3361,"y":0.1502},{"x":0.3438,"y":0.1495},{"x":0.3514,"y":0.1517},{"x":0.3591,"y":0.1514},{"x":0.3667,"y":0.1502},{"x":0.3744,"y":0.1487},{"x":0.3820,"y":0.1480},{"x":0.3897,"y":0.1499},{"x":0.3973,"y":0.1514},{"x":0.4050,"y":0.1517},{"x":0.4126,"y":0.1529},{"x":0.4203,"y":0.1551},{"x":0.4279,"y":0.1559},{"x":0.4356,"y":0.1568},{"x":0.4432,"y":0.1566},{"x":0.4509,"y":0.1596},{"x":0.4585,"y":0.1619},{"x":0.4662,"y":0.1626},{"x":0.4700,"y":0.1634},{"x":0.4776,"y":0.1615},{"x":0.4853,"y":0.1611},{"x":0.4967,"y":0.1596},{"x":0.5044,"y":0.1589},{"x":0.5120,"y":0.1611},{"x":0.5197,"y":0.1622},{"x":0.5273,"y":0.1615},{"x":0.5350,"y":0.1619},{"x":0.5426,"y":0.1607},{"x":0.5503,"y":0.1619},{"x":0.5579,"y":0.1607},{"x":0.5656,"y":0.1619},{"x":0.5732,"y":0.1622},{"x":0.5809,"y":0.1634},{"x":0.5885,"y":0.1630},{"x":0.5962,"y":0.1641},{"x":0.6038,"y":0.1637},{"x":0.6115,"y":0.1641},{"x":0.6191,"y":0.1643},{"x":0.6268,"y":0.1637},{"x":0.6344,"y":0.1641},{"x":0.6421,"y":0.1647},{"x":0.6497,"y":0.1634},{"x":0.6574,"y":0.1641},{"x":0.6650,"y":0.1650},{"x":0.6727,"y":0.1649},{"x":0.6803,"y":0.1656},{"x":0.6880,"y":0.1641},{"x":0.6956,"y":0.1626},{"x":0.7033,"y":0.1617},{"x":0.7109,"y":0.1626},{"x":0.7186,"y":0.1634},{"x":0.7262,"y":0.1647},{"x":0.7338,"y":0.1660},{"x":0.7415,"y":0.1668},{"x":0.7491,"y":0.1679},{"x":0.7568,"y":0.1690},{"x":0.7644,"y":0.1701},{"x":0.7721,"y":0.1705},{"x":0.7797,"y":0.1713},{"x":0.7874,"y":0.1724},{"x":0.7950,"y":0.1735},{"x":0.8027,"y":0.1740},{"x":0.8103,"y":0.1754},{"x":0.8180,"y":0.1769},{"x":0.8256,"y":0.1791},{"x":0.8333,"y":0.1799},{"x":0.8409,"y":0.1805},{"x":0.8486,"y":0.1810},{"x":0.8562,"y":0.1805},{"x":0.8639,"y":0.1810},{"x":0.8715,"y":0.1821},{"x":0.8753,"y":0.1829},{"x":0.8868,"y":0.1829},{"x":0.8983,"y":0.1833},{"x":0.9059,"y":0.1840},{"x":0.9136,"y":0.1855},{"x":0.9212,"y":0.1870},{"x":0.9289,"y":0.1885},{"x":0.9365,"y":0.1900},{"x":0.9442,"y":0.1919},{"x":0.9518,"y":0.1938},{"x":0.9595,"y":0.1960},{"x":0.9671,"y":0.1986},{"x":0.9748,"y":0.2013},{"x":0.9824,"y":0.2032},{"x":0.9901,"y":0.2050},{"x":0.9954,"y":0.2077},{"x":1.0,"y":0.2095}
    ]
  },
  "concat": [
    {
      "width": 354, "height": 317,
      "title": {"text": "SHAP Feature Effect", "fontSize": 25, "offset": -3},
      "resolve": {"scale": {"y": "independent"}, "axis": {"y": "independent"}},
      "layer": [
        {
          "data": {"name": "shapA"},
          "mark": {"type": "circle", "size": 75, "opacity": 1},
          "encoding": {
            "x": {"field": "s", "type": "quantitative",
              "scale": {"domain": [-0.6, 1.0], "nice": false, "zero": false},
              "axis": {"values": [-0.6,-0.4,-0.2,0,0.2,0.4,0.6,0.8,1.0], "labelExpr": "replace(format(datum.value, '.1f'), '-', '−')", "labelFlush": false, "labelOverlap": false, "labelFontSize": 13, "labelColor": "#333333", "labelPadding": 10, "domainColor": "#333333", "domainWidth": 1.4, "tickColor": "#333333", "tickWidth": 1.4, "tickSize": 5, "grid": false, "title": "SHAP value", "titleFontSize": 27, "titleFontWeight": "normal", "titleColor": "black", "titlePadding": 8}},
            "y": {"field": "f", "type": "nominal", "sort": ["Mismatch2", "Mismatch3", "Mismatch1"],
              "scale": {"paddingInner": 0, "paddingOuter": 0.5},
              "axis": {"title": null, "domain": false, "ticks": false, "grid": true, "gridDash": [1.5, 9], "gridColor": "#cccccc", "gridWidth": 1, "bandPosition": 0.5, "labelAngle": -45, "labelAlign": "right", "labelBaseline": "middle", "labelFontSize": 16, "labelColor": "#333333", "labelPadding": 58}},
            "yOffset": {"field": "j", "type": "quantitative", "scale": {"domain": [-0.5, 0.5], "nice": false, "zero": false}},
            "color": {"field": "v", "type": "quantitative",
              "scale": {"domain": [0, 0.18, 0.3, 0.45, 0.6, 0.8, 1], "range": ["#008bfb", "#0a72ec", "#5b5ada", "#8a40bf", "#b0009f", "#dc0078", "#ff0052"], "interpolate": "rgb"},
              "legend": {"orient": "none", "legendX": 376, "legendY": 0, "padding": 0, "title": null, "direction": "vertical", "gradientLength": 317, "gradientThickness": 13, "gradientStrokeWidth": 0, "labelExpr": "''", "labelOpacity": 0, "labelFontSize": 1}}
          }
        },
        {
          "data": {"values": [{}]},
          "mark": {"type": "rule", "color": "#999999", "strokeWidth": 2.6},
          "encoding": {
            "x": {"datum": 0, "type": "quantitative", "scale": {"domain": [-0.6, 1.0], "nice": false, "zero": false}},
            "y": {"datum": 0, "type": "quantitative", "scale": {"domain": [0, 1], "nice": false, "zero": false},
              "axis": {"orient": "right", "offset": 35, "values": [0, 1], "labelExpr": "datum.value >= 1 ? 'High' : 'Low'", "labelFontSize": 22, "labelColor": "#333333", "labelPadding": 8, "labelFlush": false, "labelOverlap": false, "labelBaseline": "middle", "ticks": false, "domain": false, "grid": false, "title": "Feature value", "titleAngle": 270, "titleBaseline": "middle", "titleFontSize": 24, "titleFontWeight": "normal", "titleColor": "black", "titlePadding": 73, "minExtent": 0, "maxExtent": 0}},
            "y2": {"datum": 1}
          }
        }
      ]
    },
    {
      "width": 426, "height": 317,
      "view": {"stroke": "black", "strokeWidth": 1.6},
      "title": {"text": "Avana with prior Factors", "fontSize": 25, "offset": 6},
      "data": {"name": "avana"},
      "mark": {"type": "line", "color": "#1f77b4", "strokeWidth": 3.2},
      "encoding": {
        "x": {"field": "x", "type": "quantitative", "scale": {"domain": [0.1354, 1.0412], "nice": false, "zero": false},
          "axis": {"values": [0.2, 0.4, 0.6, 0.8, 1.0], "format": ".1f", "domain": false, "tickSize": 7, "tickWidth": 1.6, "tickColor": "black", "grid": true, "gridColor": "#b0b0b0", "gridWidth": 1.6, "labelFontSize": 20, "labelColor": "black", "labelPadding": 7, "labelFlush": false, "title": "Fraction Guides Retained", "titleFontSize": 21, "titleFontWeight": "normal", "titleColor": "black", "titlePadding": 10}},
        "y": {"field": "y", "type": "quantitative", "scale": {"domain": [0.0674, 0.2671], "nice": false, "zero": false},
          "axis": {"values": [0.10, 0.15, 0.20, 0.25], "format": ".2f", "domain": false, "tickSize": 7, "tickWidth": 1.6, "tickColor": "black", "grid": true, "gridColor": "#b0b0b0", "gridWidth": 1.6, "labelFontSize": 20, "labelColor": "black", "labelPadding": 7, "labelFlush": false, "title": "Cumulative Fraction Outliers", "titleFontSize": 21, "titleFontWeight": "normal", "titleColor": "black", "titlePadding": 7}}
      }
    },
    {
      "width": 354, "height": 316,
      "title": {"text": "SHAP Feature Effect", "fontSize": 25, "offset": -2.5},
      "resolve": {"scale": {"y": "independent"}, "axis": {"y": "independent"}},
      "layer": [
        {
          "data": {"name": "shapB"},
          "mark": {"type": "circle", "size": 75, "opacity": 1},
          "encoding": {
            "x": {"field": "s", "type": "quantitative",
              "scale": {"domain": [-0.6, 1.063], "nice": false, "zero": false},
              "axis": {"values": [-0.6,-0.4,-0.2,0,0.2,0.4,0.6,0.8,1.0], "labelExpr": "replace(format(datum.value, '.1f'), '-', '−')", "labelFlush": false, "labelOverlap": false, "labelFontSize": 13, "labelColor": "#333333", "labelPadding": 10, "domainColor": "#333333", "domainWidth": 1.4, "tickColor": "#333333", "tickWidth": 1.4, "tickSize": 5, "grid": false, "title": "SHAP value", "titleFontSize": 27, "titleFontWeight": "normal", "titleColor": "black", "titlePadding": 8}},
            "y": {"field": "f", "type": "nominal", "sort": ["Mismatch3", "Mismatch1", "Mismatch2"],
              "scale": {"paddingInner": 0, "paddingOuter": 0.5},
              "axis": {"title": null, "domain": false, "ticks": false, "grid": true, "gridDash": [1.5, 9], "gridColor": "#cccccc", "gridWidth": 1, "bandPosition": 0.5, "labelAngle": -45, "labelAlign": "right", "labelBaseline": "middle", "labelFontSize": 16, "labelColor": "#333333", "labelPadding": 58}},
            "yOffset": {"field": "j", "type": "quantitative", "scale": {"domain": [-0.5, 0.5], "nice": false, "zero": false}},
            "color": {"field": "v", "type": "quantitative",
              "scale": {"domain": [0, 0.18, 0.3, 0.45, 0.6, 0.8, 1], "range": ["#008bfb", "#0a72ec", "#5b5ada", "#8a40bf", "#b0009f", "#dc0078", "#ff0052"], "interpolate": "rgb"},
              "legend": {"orient": "none", "legendX": 376, "legendY": 0, "padding": 0, "title": null, "direction": "vertical", "gradientLength": 316, "gradientThickness": 13, "gradientStrokeWidth": 0, "labelExpr": "''", "labelOpacity": 0, "labelFontSize": 1}}
          }
        },
        {
          "data": {"values": [{}]},
          "mark": {"type": "rule", "color": "#999999", "strokeWidth": 2.6},
          "encoding": {
            "x": {"datum": 0, "type": "quantitative", "scale": {"domain": [-0.6, 1.063], "nice": false, "zero": false}},
            "y": {"datum": 0, "type": "quantitative", "scale": {"domain": [0, 1], "nice": false, "zero": false},
              "axis": {"orient": "right", "offset": 35, "values": [0, 1], "labelExpr": "datum.value >= 1 ? 'High' : 'Low'", "labelFontSize": 22, "labelColor": "#333333", "labelPadding": 8, "labelFlush": false, "labelOverlap": false, "labelBaseline": "middle", "ticks": false, "domain": false, "grid": false, "title": "Feature value", "titleAngle": 270, "titleBaseline": "middle", "titleFontSize": 24, "titleFontWeight": "normal", "titleColor": "black", "titlePadding": 73, "minExtent": 0, "maxExtent": 0}},
            "y2": {"datum": 1}
          }
        }
      ]
    },
    {
      "width": 426, "height": 316,
      "view": {"stroke": "black", "strokeWidth": 1.6},
      "title": {"text": "KY with prior Factors", "fontSize": 25, "offset": 7},
      "data": {"name": "ky"},
      "mark": {"type": "line", "color": "#1f77b4", "strokeWidth": 3.2},
      "encoding": {
        "x": {"field": "x", "type": "quantitative", "scale": {"domain": [0.066, 1.0445], "nice": false, "zero": false},
          "axis": {"values": [0.2, 0.4, 0.6, 0.8, 1.0], "format": ".1f", "domain": false, "tickSize": 7, "tickWidth": 1.6, "tickColor": "black", "grid": true, "gridColor": "#b0b0b0", "gridWidth": 1.6, "labelFontSize": 20, "labelColor": "black", "labelPadding": 7, "labelFlush": false, "title": "Fraction Guides Retained", "titleFontSize": 21, "titleFontWeight": "normal", "titleColor": "black", "titlePadding": 10}},
        "y": {"field": "y", "type": "quantitative", "scale": {"domain": [0.1413, 0.2125], "nice": false, "zero": false},
          "axis": {"values": [0.16, 0.18, 0.20], "format": ".2f", "domain": false, "tickSize": 7, "tickWidth": 1.6, "tickColor": "black", "grid": true, "gridColor": "#b0b0b0", "gridWidth": 1.6, "labelFontSize": 20, "labelColor": "black", "labelPadding": 7, "labelFlush": false, "title": "Cumulative Fraction Outliers", "titleFontSize": 21, "titleFontWeight": "normal", "titleColor": "black", "titlePadding": 7}}
      }
    }
  ]
}
